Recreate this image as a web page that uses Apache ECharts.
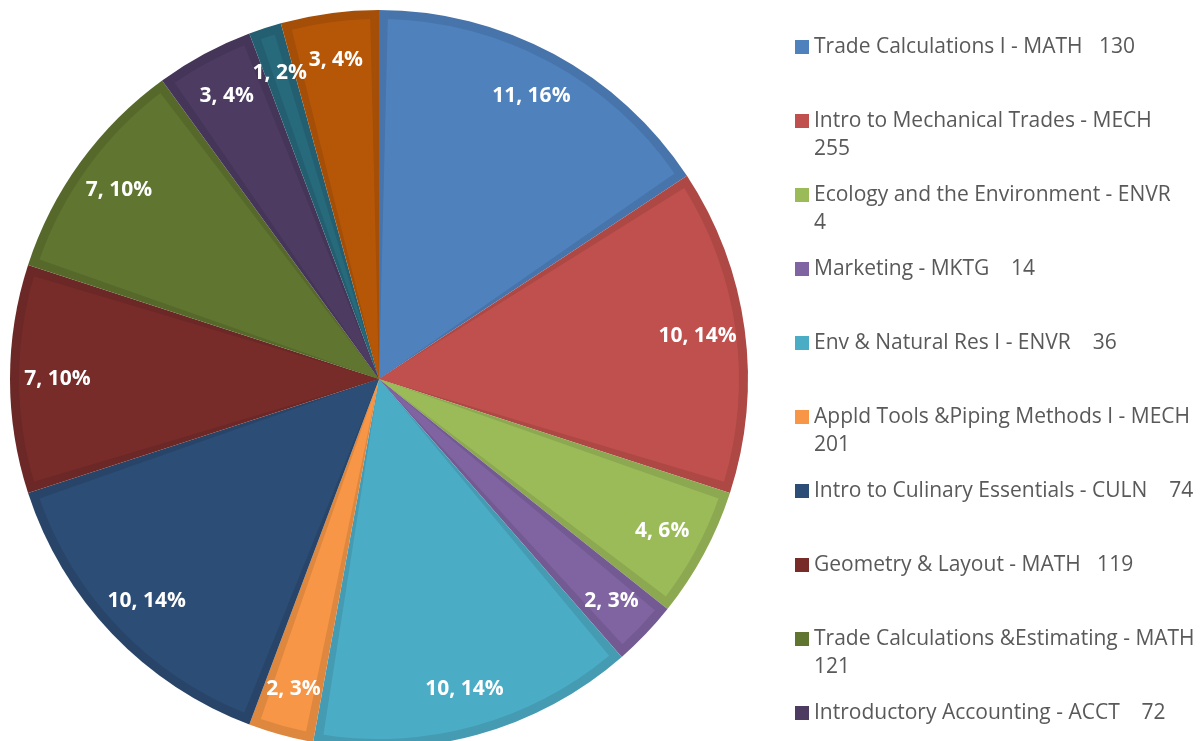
<!DOCTYPE html>
<html>
<head>
<meta charset="utf-8">
<script src="https://cdn.jsdelivr.net/npm/echarts@6/dist/echarts.min.js"></script>
<style>
  html, body { margin: 0; background: #fff; }
  #main { width: 1202px; height: 741px; }
</style>
</head>
<body>
<div id="main"></div>
<script>
// course titles and course numbers, as in the legend (last two are cut off in the picture)
var courses = [
  'Trade Calculations I - MATH',
  'Intro to Mechanical Trades - MECH',
  'Ecology and the Environment - ENVR',
  'Marketing - MKTG',
  'Env & Natural Res I - ENVR',
  'Appld Tools &Piping Methods I - MECH',
  'Intro to Culinary Essentials - CULN',
  'Geometry & Layout - MATH',
  'Trade Calculations &Estimating - MATH',
  'Introductory Accounting - ACCT',
  'Intro to Welding - WELD',
  'Basic Electricity - ELEC'
];
var courseNums = [130, 255, 4, 14, 36, 201, 74, 119, 121, 72, 101, 110];
// slice values and the percentages printed on them
var counts = [11, 10, 4, 2, 10, 2, 10, 7, 7, 3, 1, 3];
var pctLabels = [16, 14, 6, 3, 14, 3, 14, 10, 10, 4, 2, 4];

var colors = ['#4F81BD', '#C0504D', '#9BBB59', '#8064A2', '#4BACC6', '#F79646',
              '#2C4D75', '#772C2A', '#5F7530', '#4D3B62', '#276A7C', '#B65708'];

var legendFont = '21px "Open Sans"';
var legendWidth = 387;

function shade(hex, k) {
  var n = parseInt(hex.slice(1), 16);
  var r = Math.round(((n >> 16) & 255) * k);
  var g = Math.round(((n >> 8) & 255) * k);
  var b = Math.round((n & 255) * k);
  return 'rgb(' + r + ',' + g + ',' + b + ')';
}

// the number goes on a second line when the whole entry does not fit
var ctx = document.createElement('canvas').getContext('2d');
ctx.font = legendFont;
var names = courses.map(function (c, i) {
  var one = c + (courseNums[i] >= 100 ? '   ' : '    ') + courseNums[i];
  return ctx.measureText(one).width > legendWidth ? c + '\n' + courseNums[i] : one;
});

var R = 369;
var center = [379, 379];

var fillData = names.map(function (n, i) {
  return { name: n, value: counts[i], itemStyle: { color: colors[i] } };
});
var rimData = names.map(function (n, i) {
  return { name: n, value: counts[i], itemStyle: { color: shade(colors[i], 0.9) } };
});
var labelData = names.map(function (n, i) {
  return { name: n, value: counts[i] };
});

var chart = echarts.init(document.getElementById('main'));

chart.setOption({
  animation: false,
  legend: {
    orient: 'vertical',
    left: 795,
    top: 5,
    height: 1200,
    padding: 0,
    itemWidth: 14,
    itemHeight: 14,
    itemGap: -10,
    icon: 'rect',
    data: names,
    formatter: function (n) {
      return n.split('\n').map(function (s) { return '{t|' + s + '}'; }).join('\n');
    },
    textStyle: {
      width: legendWidth,
      height: 56,
      lineHeight: 28,
      padding: [28, 0, 0, 0],
      backgroundColor: 'rgba(255,255,255,0)',
      rich: {
        t: { fontFamily: 'Open Sans', fontSize: 21, color: '#595959', lineHeight: 28 }
      }
    }
  },
  series: [
    {
      type: 'pie',
      z: 2,
      center: center,
      radius: [0, R - 9],
      padAngle: 2.8,
      startAngle: 90,
      clockwise: true,
      label: { show: false },
      labelLine: { show: false },
      emphasis: { disabled: true },
      data: fillData
    },
    {
      type: 'pie',
      z: 1,
      center: center,
      radius: [0, R],
      startAngle: 90,
      clockwise: true,
      label: { show: false },
      labelLine: { show: false },
      emphasis: { disabled: true },
      data: rimData
    },
    {
      type: 'pie',
      z: 3,
      silent: true,
      center: center,
      radius: [268, R],
      startAngle: 90,
      clockwise: true,
      itemStyle: { color: 'rgba(0,0,0,0)' },
      label: {
        show: true,
        position: 'inside',
        color: '#fff',
        fontFamily: 'Open Sans',
        fontWeight: 'bold',
        fontSize: 21,
        formatter: function (p) {
          return p.value + ', ' + pctLabels[p.dataIndex] + '%';
        }
      },
      labelLine: { show: false },
      emphasis: { disabled: true },
      data: labelData
    }
  ]
});
</script>
</body>
</html>
